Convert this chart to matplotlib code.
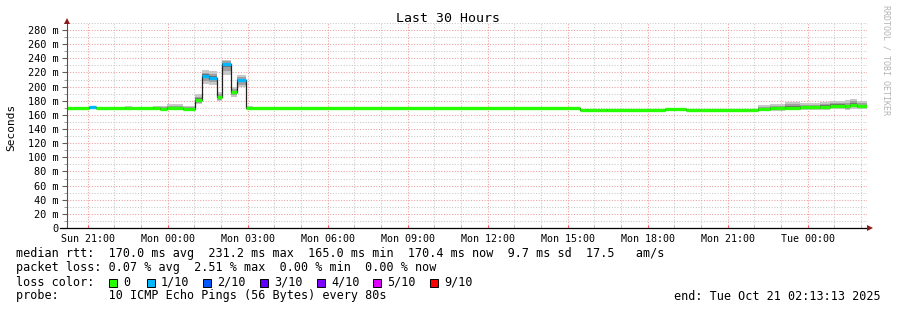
import datetime as dt
import numpy as np
import matplotlib
matplotlib.use("Agg")
import matplotlib.pyplot as plt
import matplotlib.dates as mdates
from matplotlib.lines import Line2D
from matplotlib.patches import Rectangle

plt.rcParams['font.family'] = ['DejaVu Sans Mono']

# ---- data ----
START = dt.datetime(2025, 10, 19, 20, 13, 13)
SPAN_H = 30.0
# segment start, hours after START
seg_hours = [0.00, 0.82, 1.09, 2.17, 2.44, 3.22, 3.49, 3.75, 4.35, 4.80,
             5.06, 5.33, 5.63, 5.83, 6.15, 6.39, 6.71, 6.97, 19.24, 19.50,
             19.99, 20.25, 22.42, 23.21, 23.74, 25.61, 25.91, 26.36, 26.92, 27.49,
             28.24, 28.61, 29.17, 29.36, 29.63]
median_ms = [169.5, 170.5, 169.5, 169.5, 169.5, 169.5, 168.5, 169.5, 169.0, 181.0,
             215.0, 212.0, 185.0, 232.0, 192.0, 209.0, 169.5, 169.5, 166.5, 167.5,
             166.5, 167.5, 168.5, 166.5, 167.0, 166.5, 168.5, 169.5, 170.0, 170.5,
             171.5, 173.0, 172.0, 174.5, 172.0]
loss_idx = [0, 1, 0, 0, 0, 0, 0, 0, 0, 0,
            1, 1, 0, 1, 0, 1, 0, 0, 0, 0,
            0, 0, 0, 0, 0, 0, 0, 0, 0, 0,
            0, 0, 0, 0, 0]
smoke_lo = [169.0, 170.0, 169.0, 169.0, 169.0, 169.0, 167.0, 168.0, 168.0, 175.0,
            204.0, 203.0, 179.0, 216.0, 185.0, 199.0, 168.0, 169.0, 166.0, 167.0,
            166.0, 167.0, 168.0, 166.0, 166.5, 165.5, 165.5, 165.5, 166.5, 166.5,
            167.0, 168.0, 167.0, 169.0, 168.0]
smoke_hi = [170.0, 171.5, 170.0, 172.0, 170.0, 172.5, 173.0, 175.0, 172.5, 189.0,
            223.0, 222.0, 193.0, 238.0, 199.0, 217.0, 173.0, 170.0, 167.5, 168.0,
            167.5, 168.0, 169.0, 167.5, 168.0, 168.0, 174.0, 175.0, 178.0, 177.0,
            178.0, 180.0, 181.0, 183.0, 180.0]

loss_labels = ["0", "1/10", "2/10", "3/10", "4/10", "5/10", "9/10"]
loss_colors = ["#26ff00", "#00b8ff", "#0059ff", "#5e00ff", "#7e00ff", "#dd00ff", "#ff0000"]

title = "Last 30 Hours"
legend_rtt = "median rtt:  170.0 ms avg  231.2 ms max  165.0 ms min  170.4 ms now  9.7 ms sd  17.5   am/s"
legend_loss = "packet loss: 0.07 % avg  2.51 % max  0.00 % min  0.00 % now"
legend_probe = "probe:       10 ICMP Echo Pings (56 Bytes) every 80s"
end_text = "end: Tue Oct 21 02:13:13 2025"

# ---- figure ----
W, H = 897, 310
fig = plt.figure(figsize=(W / 100, H / 100), dpi=100)
fig.patch.set_facecolor("white")

def fx(x):
    return x / W

def fy(y):
    return 1 - y / H

ax = fig.add_axes([fx(67), fy(228), 800 / W, 205 / H])
t0 = mdates.date2num(START)
edges = t0 + np.array(seg_hours + [SPAN_H]) / 24.0
med = np.array(median_ms)
lo = np.array(smoke_lo)
hi = np.array(smoke_hi)

def ext(a):
    return np.append(a, a[-1])

# smoke layers, darker towards the median
ax.fill_between(edges, ext(lo), ext(hi), step="post", color="#c8c8c8", lw=0, zorder=2)
ax.fill_between(edges, ext(med - 0.6 * (med - lo)), ext(med + 0.6 * (hi - med)),
                step="post", color="#a0a0a0", lw=0, zorder=2)
ax.fill_between(edges, ext(med - 0.3 * (med - lo)), ext(med + 0.3 * (hi - med)),
                step="post", color="#6e6e6e", lw=0, zorder=2)
ax.step(edges, ext(med), where="post", color="#202020", lw=0.9, zorder=3)
ax.hlines(med, edges[:-1], edges[1:], colors=[loss_colors[i] for i in loss_idx],
          lw=2.4, zorder=4)

ax.set_xlim(t0, t0 + SPAN_H / 24.0)
ax.set_ylim(0, 290)

ax.xaxis.set_major_locator(mdates.HourLocator(byhour=range(0, 24, 3)))
ax.xaxis.set_major_formatter(mdates.DateFormatter("%a %H:%M"))
ax.xaxis.set_minor_locator(mdates.HourLocator())
ax.yaxis.set_major_locator(plt.MultipleLocator(20))
ax.yaxis.set_minor_locator(plt.MultipleLocator(10))
ax.yaxis.set_major_formatter(plt.FuncFormatter(lambda v, p: "0" if v == 0 else "%d m" % v))

dots = (0, (1, 1.6))
ax.grid(which="minor", color="#c8c8c8", ls=dots, lw=0.75, zorder=1)
ax.grid(which="major", color="#f09a9a", ls=dots, lw=0.75, zorder=1)
ax.set_axisbelow(True)

ax.tick_params(axis="x", which="major", direction="in", length=2.5, color="#ff6060",
               labelsize=7.2, pad=4)
ax.tick_params(axis="x", which="minor", direction="in", length=2, color="#b0b0b0")
ax.tick_params(axis="y", which="major", direction="out", length=3.5, color="#606060",
               labelsize=7.4, pad=2.5)
ax.tick_params(axis="y", which="minor", direction="out", length=2, color="#909090")
for s in ax.spines.values():
    s.set_visible(False)

# axis lines with arrows
fig.add_artist(Line2D([fx(67), fx(67)], [fy(228), fy(22)], color="#505050", lw=0.8))
fig.add_artist(Line2D([fx(60), fx(868)], [fy(228), fy(228)], color="black", lw=0.9))
fig.add_artist(Line2D([fx(67)], [fy(21)], marker="^", ms=4.5, color="#8b1a1a", mew=0))
fig.add_artist(Line2D([fx(870)], [fy(228)], marker=">", ms=4.5, color="#8b1a1a", mew=0))

# texts
fig.text(fx(448), fy(19), title, ha="center", va="center", fontsize=9.5)
fig.text(fx(11), fy(127), "Seconds", rotation=90, ha="center", va="center", fontsize=8)
fig.text(fx(886), fy(60), "RRDTOOL / TOBI OETIKER", rotation=270, ha="center", va="center",
         fontsize=6, color="#b4b4b4")

fs = 8.5
fig.text(fx(16), fy(254), legend_rtt, ha="left", va="center", fontsize=fs)
fig.text(fx(16), fy(268), legend_loss, ha="left", va="center", fontsize=fs)
fig.text(fx(16), fy(282), "loss color:", ha="left", va="center", fontsize=fs)
box_x = [109, 147, 203, 260, 317, 373, 430]
for bx, lab, col in zip(box_x, loss_labels, loss_colors):
    fig.add_artist(Rectangle((fx(bx), fy(286.5)), 8 / W, 8 / H, facecolor=col,
                             edgecolor="black", lw=0.7))
    fig.text(fx(bx + 14), fy(282), lab, ha="left", va="center", fontsize=fs)
fig.text(fx(16), fy(296), legend_probe, ha="left", va="center", fontsize=fs)
fig.text(fx(881), fy(296), end_text, ha="right", va="center", fontsize=fs)

fig.savefig("out.png", dpi=100, facecolor="white")
